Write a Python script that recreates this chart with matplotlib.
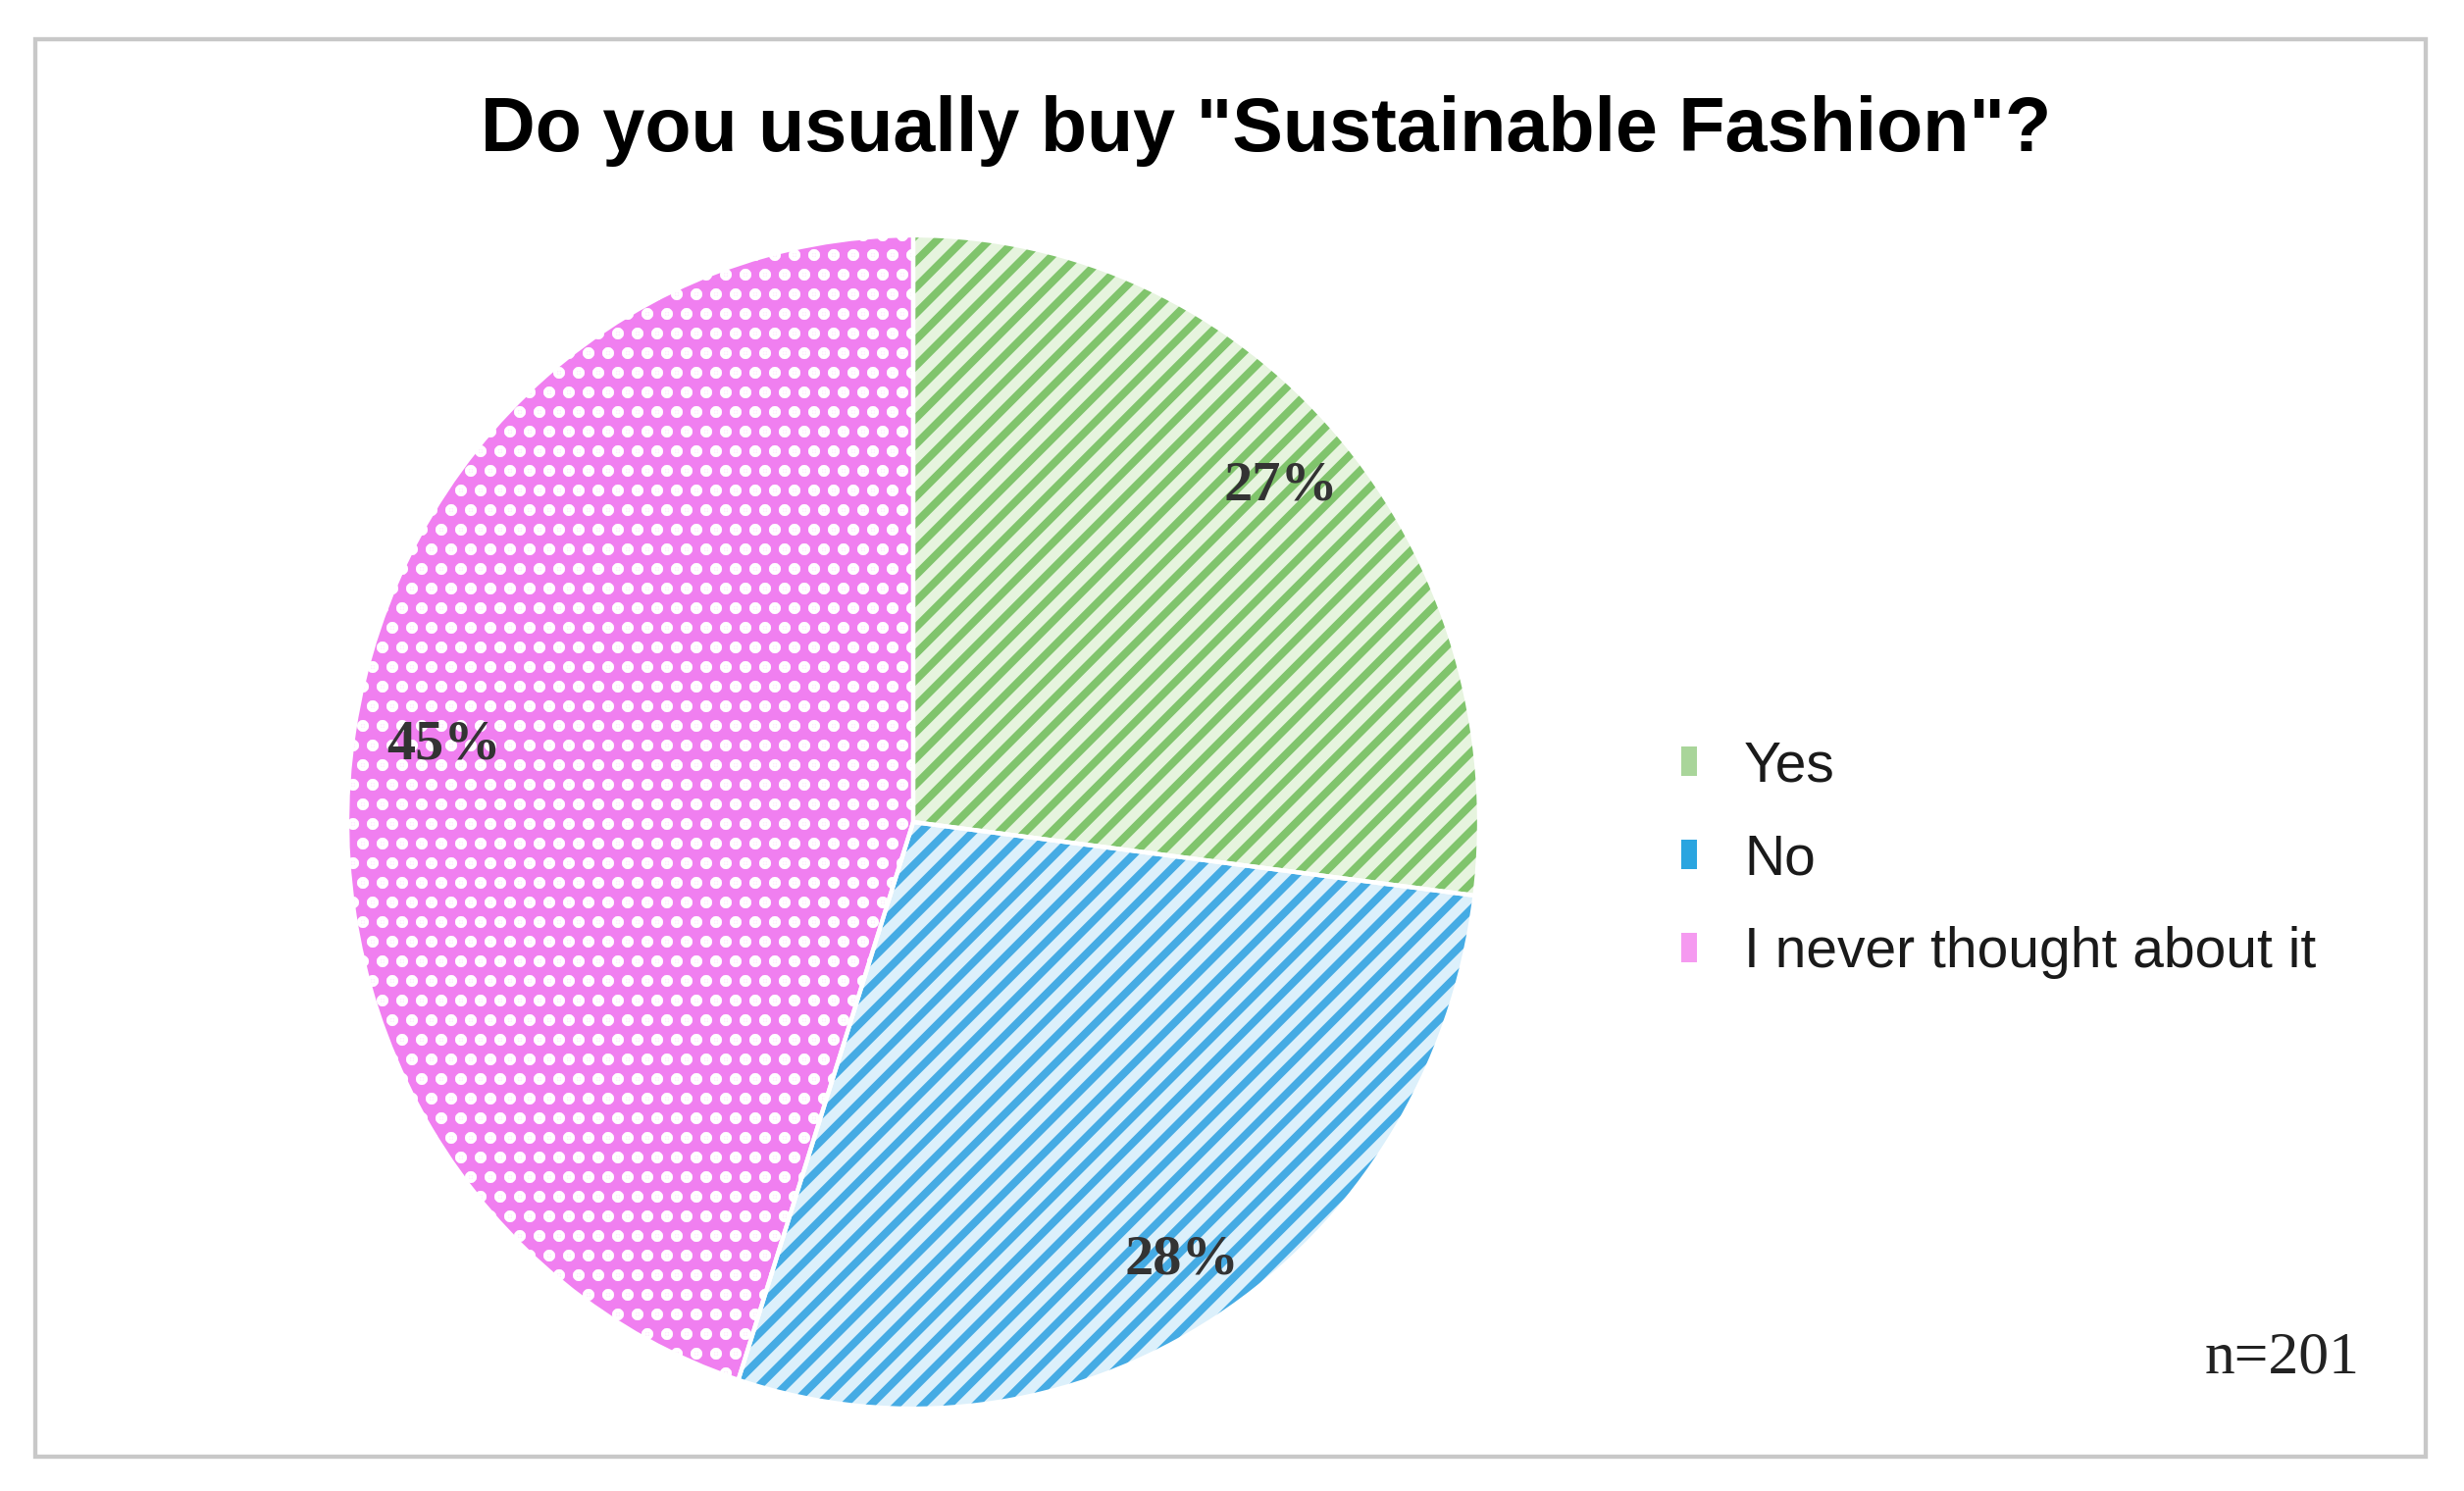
import matplotlib.pyplot as plt
import numpy as np
from matplotlib.patches import Patch, Rectangle

# data
labels = ["Yes", "No", "I never thought about it"]
shares = [27, 28, 45]
n_resp = 201

face_cols = ["#e6f4de", "#dcf0fb", "#f07ff0"]
hatch_cols = ["#80c46c", "#45abe4", "#ffffff"]
hatches = ["///", "///", ".."]
legend_cols = ["#a9d59a", "#2aa5e0", "#f59af0"]
pct_dist = [0.865, 0.885, 0.84]

DPI = 240
plt.rcParams["hatch.linewidth"] = 2.4

W, H = 2512, 1520
fig = plt.figure(figsize=(W / DPI, H / DPI), dpi=DPI)

# pie axes, centre and radii taken in pixels (slightly taller than wide)
cx, cy, rx, ry = 931, 838, 577, 598
pad = 1.03
ax = fig.add_axes([(cx - rx * pad) / W, (H - cy - ry * pad) / H,
                   2 * rx * pad / W, 2 * ry * pad / H])

wedges, texts, autotexts = ax.pie(
    shares, startangle=90, counterclock=False, colors=face_cols,
    autopct="%d%%",
    wedgeprops=dict(linewidth=0),
    textprops=dict(family="Liberation Serif", fontweight="bold",
                   fontsize=17.5, color="#333333"))
for w, hc, hp in zip(wedges, hatch_cols, hatches):
    w.set_hatch(hp)
    w.set_edgecolor(hc)
    w.set_linewidth(0)

for w, t, d in zip(wedges, autotexts, pct_dist):
    mid = np.deg2rad((w.theta1 + w.theta2) / 2)
    t.set_position((d * np.cos(mid), d * np.sin(mid)))

# white borders between slices
ax.pie(shares, startangle=90, counterclock=False,
       wedgeprops=dict(fill=False, edgecolor="white", linewidth=1.3))
ax.set_xlim(-pad, pad)
ax.set_ylim(-pad, pad)
ax.set_aspect("auto")
ax.axis("off")

# legend
handles = [Patch(facecolor=c, edgecolor="none") for c in legend_cols]
fig.legend(handles, labels, loc="upper left",
           bbox_to_anchor=(1663 / W, 1 - 703 / H), frameon=False,
           prop=dict(family="Liberation Sans", size=17.1),
           labelcolor="#1a1a1a",
           handlelength=0.28, handleheight=0.42, handletextpad=0.84,
           labelspacing=0.72)

# title and note
fig.text(1291 / W, 1 - 134 / H, 'Do you usually buy "Sustainable Fashion"?',
         ha="center", va="center", fontsize=23.2, fontweight="bold",
         family="Liberation Sans")
fig.text(2327 / W, 1 - 1385 / H, "n=%d" % n_resp, ha="center", va="center",
         fontsize=18.5, family="Liberation Serif", color="#222222")

# outer frame
fig.add_artist(Rectangle((36 / W, 1 - 1485 / H), (2473 - 36) / W,
                         (1485 - 40) / H, transform=fig.transFigure,
                         fill=False, edgecolor="#c8c8c8", linewidth=1.3))

fig.savefig("out.png", dpi=DPI, facecolor="white")
